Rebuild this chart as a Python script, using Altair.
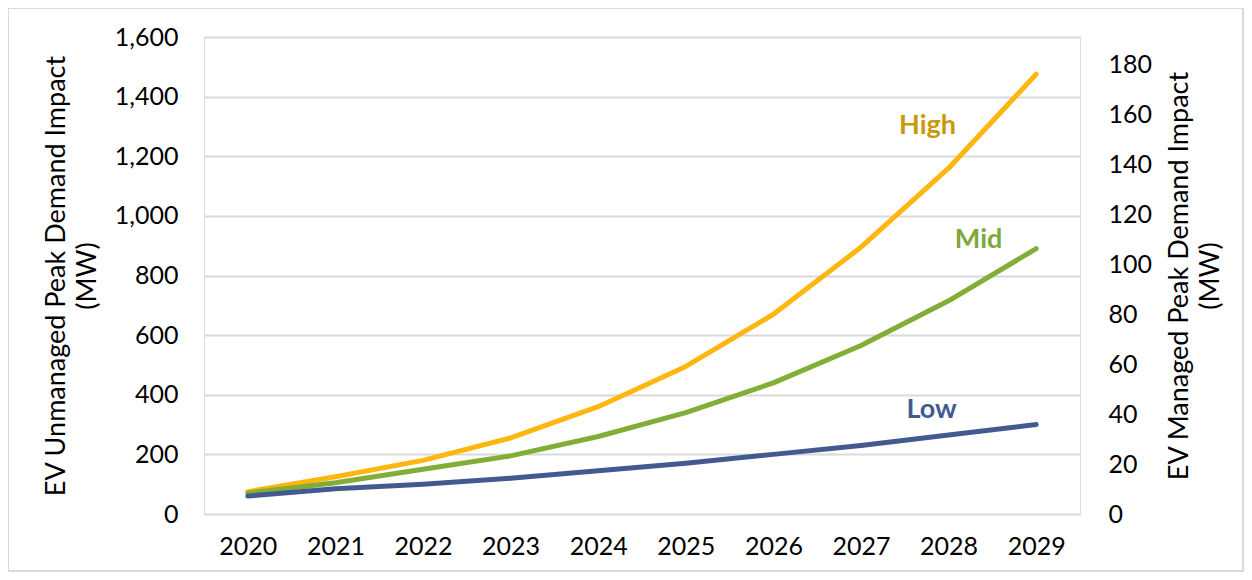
import altair as alt
import pandas as pd

years = ["2020", "2021", "2022", "2023", "2024", "2025", "2026", "2027", "2028", "2029"]
high = [75, 125, 180, 255, 360, 495, 670, 895, 1160, 1475]
mid = [70, 105, 150, 195, 260, 340, 440, 565, 715, 890]
low = [60, 85, 100, 120, 145, 170, 200, 230, 265, 300]
series = ["High", "Mid", "Low"]
line_colors = ["#FFB60F", "#82AD37", "#435A91"]
label_colors = ["#C99A06", "#7FA83A", "#435A91"]
label_years = ["2028", "2028", "2028"]
label_values = [1302, 919, 349]
label_dx = [-21, 30, -17]

rows = []
for s, vals in zip(series, [high, mid, low]):
    for y, v in zip(years, vals):
        rows.append({"Year": y, "Value": v, "Series": s})
df = pd.DataFrame(rows)

lab = pd.DataFrame({"Series": series, "Year": label_years, "Value": label_values,
                    "dx": label_dx, "color": label_colors})

W, H = 876, 477
FONT = "Lato"

xenc = alt.X("Year:O", scale=alt.Scale(type="point", padding=0.5, domain=years),
             axis=alt.Axis(title=None, labelAngle=0, ticks=False, domain=False, grid=False,
                           labelFontSize=25, labelColor="#000000", labelPadding=20, labelFont=FONT))

lines = alt.Chart(df).mark_line(strokeWidth=5, strokeCap="round", strokeJoin="round").encode(
    x=xenc,
    y=alt.Y("Value:Q", scale=alt.Scale(domain=[0, 1600], nice=False),
            axis=alt.Axis(title=["EV Unmanaged Peak Demand Impact", "(MW)"], values=list(range(0, 1601, 200)),
                          format=",.0f", ticks=False, domain=False, grid=True, gridColor="#D9D9D9", gridWidth=2,
                          labelFontSize=25, labelColor="#000000", labelPadding=26, labelFont=FONT,
                          titleFontSize=27, titleFontWeight="normal", titleColor="#000000", titleFont=FONT,
                          titlePadding=13, titleLineHeight=31)),
    color=alt.Color("Series:N", scale=alt.Scale(domain=series, range=line_colors), legend=None),
    detail="Series:N",
)

texts = []
for i in range(3):
    texts.append(alt.Chart(lab.iloc[[i]]).mark_text(fontSize=27, fontWeight="bold", font=FONT,
                                                     dx=label_dx[i], color=label_colors[i]).encode(
        x=alt.X("Year:O", scale=alt.Scale(type="point", padding=0.5, domain=years)),
        y=alt.Y("Value:Q", scale=alt.Scale(domain=[0, 1600], nice=False)),
        text="Series:N"))

left = alt.layer(lines, *texts)

right_df = pd.DataFrame({"v": [0, 190.8]})
right = alt.Chart(right_df).mark_point(opacity=0).encode(
    y=alt.Y("v:Q", scale=alt.Scale(domain=[0, 190.8], nice=False),
            axis=alt.Axis(orient="right", title=["EV Managed Peak Demand Impact", "(MW)"],
                          values=list(range(0, 181, 20)), ticks=False, domain=False, grid=False,
                          labelFontSize=25, labelColor="#000000", labelPadding=28, labelFont=FONT,
                          titleFontSize=27, titleFontWeight="normal", titleColor="#000000", titleFont=FONT,
                          titleAngle=270, titlePadding=11, titleLineHeight=31)),
)

border = alt.Chart(pd.DataFrame({"a": [0]})).mark_rect(fill=None, stroke="#D9D9D9", strokeWidth=2).encode(
    x=alt.value(-196), x2=alt.value(W + 163), y=alt.value(-29), y2=alt.value(H + 57))

chart = alt.layer(border, left, right).resolve_scale(y="independent").properties(
    width=W, height=H,
    autosize=alt.AutoSizeParams(type="none"),
    padding={"left": 196, "top": 29, "right": 164, "bottom": 58},
).configure_view(stroke=None).configure(background="#FFFFFF")

chart.save("out.html", embed_options={"renderer": "svg", "actions": False})
